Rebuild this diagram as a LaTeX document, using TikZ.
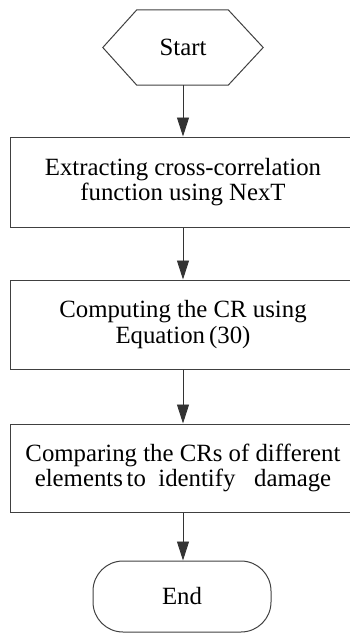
\documentclass[tikz,border=0pt]{standalone}
\usepackage{fontspec}
\setmainfont{Liberation Serif}
\usetikzlibrary{arrows.meta}
\begin{document}
\begin{tikzpicture}[x=1pt,y=1pt,
  line/.style={line width=1pt, draw=black!75},
  arr/.style={line width=0.9pt, draw=black!80, -{Triangle[length=19pt,width=12pt]}},
  txt/.style={font=\fontsize{24.8}{25.5}\selectfont, align=center, inner sep=0pt, text=black},
  procbox/.style={line, rectangle, minimum width=346pt, txt}]
\useasboundingbox (0,0) rectangle (350,-633);
\clip (0,0) rectangle (350,-633);

\node[txt, minimum width=160pt, minimum height=75pt] (start) at (183,-47.5) {Start};
\draw[line] ([xshift=34pt]start.north west) -- ([xshift=-35pt]start.north east)
  -- (start.east) -- ([xshift=-35pt]start.south east)
  -- ([xshift=34pt]start.south west) -- (start.west) -- cycle;

\node[procbox, minimum height=90pt] (b1) at (183,-182) {Extracting cross-correlation\\function using NexT};
\node[procbox, minimum height=89pt] (b2) at (183,-324.5) {Computing the CR using\\Equation\,(30)};
\node[procbox, minimum height=88pt] (b3) at (183,-468) {Comparing the CRs of different\\elements\hspace{0.15em}to\hspace{0.5em}identify\hspace{0.75em}damage};

\node[line, txt, rounded corners=30pt, minimum width=178pt, minimum height=71pt] (end) at (182,-596.5) {End};

\draw[arr] (start.south) -- (b1.north);
\draw[arr] (b1.south) -- (b2.north);
\draw[arr] (b2.south) -- (b3.north);
\draw[arr] (b3.south) -- (b3.south |- end.north);
\end{tikzpicture}
\end{document}
